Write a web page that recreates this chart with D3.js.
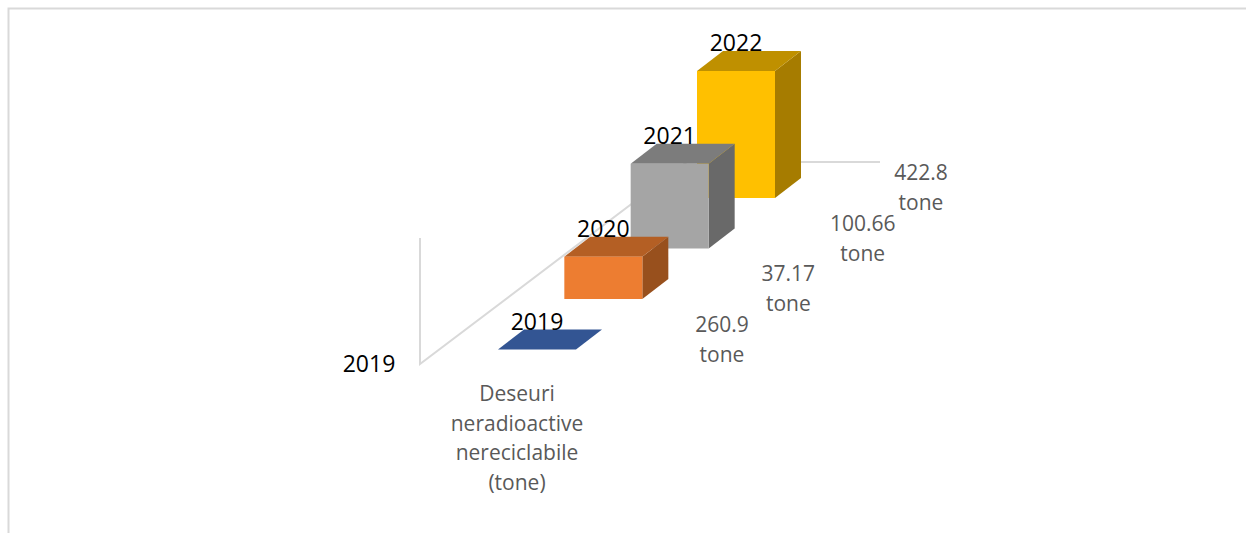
<!DOCTYPE html>
<html>
<head>
<meta charset="utf-8">
<script src="https://cdn.jsdelivr.net/npm/d3@7"></script>
<style>
  html, body { margin: 0; padding: 0; background: #fff; }
  svg { display: block; }
  text { font-family: "Open Sans", sans-serif; }
</style>
</head>
<body>
<script>
// values are the years themselves, the value axis starts at 2019
const categories = ["Deseuri neradioactive nereciclabile (tone)"];
const categoryLines = ["Deseuri", "neradioactive", "nereciclabile", "(tone)"];
const seriesNames = ["260.9 tone", "37.17 tone", "100.66 tone", "422.8 tone"];
const seriesValues = [2019, 2020, 2021, 2022];
const axisTicks = [2019];
const frontColors = ["#335593", "#ed7d31", "#a5a5a5", "#ffc000"];
const topColors = ["#335593", "#b45f24", "#7c7c7c", "#bf9000"];
const sideColors = ["#335593", "#98501d", "#696969", "#a67c00"];

const width = 1246, height = 533;
const barW = 78, skewX = 26, skewY = 20;

const svg = d3.select("body").append("svg")
  .attr("width", width)
  .attr("height", height)
  .attr("viewBox", `0 0 ${width} ${height}`);

// depth axis: series sit one behind the other
const depth = d3.scalePoint().domain(seriesNames).range([0, 1]);
const depthX = d3.scaleLinear().domain([0, 1]).range([498, 697]);
const depthY = d3.scaleLinear().domain([0, 1]).range([349.5, 198]);
const barH = d3.scaleLinear().domain([2019, 2022]).range([0, 127]);

// chart frame, only top and left are inside the crop
svg.append("path")
  .attr("d", `M${width},8.5 H8.5 V${height}`)
  .attr("fill", "none")
  .attr("stroke", "#d9d9d9")
  .attr("stroke-width", 2);

// walls and floor edges
svg.append("path")
  .attr("d", "M420,238 V364 L687,162 H880")
  .attr("fill", "none")
  .attr("stroke", "#d9d9d9")
  .attr("stroke-width", 2);

svg.selectAll(".tick-label")
  .data(axisTicks)
  .join("text")
  .attr("class", "tick-label")
  .attr("x", 369)
  .attr("y", 372)
  .attr("text-anchor", "middle")
  .attr("font-size", 23)
  .attr("fill", "#000")
  .text(d => d);

// back bar first so the nearer ones cover it
const bars = svg.selectAll(".bar")
  .data(seriesNames.map((name, i) => ({ name, i })).reverse())
  .join("g")
  .attr("class", "bar")
  .attr("transform", d => `translate(${depthX(depth(d.name))},${depthY(depth(d.name))})`);

bars.append("path")
  .attr("fill", d => sideColors[d.i])
  .attr("d", d => {
    const h = barH(seriesValues[d.i]);
    return `M${barW},0 L${barW + skewX},${-skewY} V${-skewY - h} L${barW},${-h} Z`;
  });

bars.append("path")
  .attr("fill", d => topColors[d.i])
  .attr("d", d => {
    const h = barH(seriesValues[d.i]);
    return `M0,${-h} L${skewX},${-h - skewY} H${barW + skewX} L${barW},${-h} Z`;
  });

bars.append("rect")
  .attr("x", 0)
  .attr("y", d => -barH(seriesValues[d.i]))
  .attr("width", barW)
  .attr("height", d => barH(seriesValues[d.i]))
  .attr("fill", d => frontColors[d.i]);

// year labels go on top of all bars
svg.selectAll(".year-label")
  .data(seriesNames)
  .join("text")
  .attr("class", "year-label")
  .attr("x", d => depthX(depth(d)) + barW / 2)
  .attr("y", (d, i) => depthY(depth(d)) - barH(seriesValues[i]) - skewY)
  .attr("text-anchor", "middle")
  .attr("font-size", 23)
  .attr("fill", "#000")
  .text((d, i) => seriesValues[i]);

// depth axis labels, wrapped on two lines
const depthLabels = svg.selectAll(".depth-label")
  .data(seriesNames)
  .join("text")
  .attr("class", "depth-label")
  .attr("text-anchor", "middle")
  .attr("font-size", 21)
  .attr("fill", "#595959");

// the 100.66 label sits a bit off the regular depth step in the original
const labelDx = name => (name === seriesNames[2] ? 8 : 0);

depthLabels.selectAll("tspan")
  .data(d => d.split(" ").map(s => ({ s, name: d })))
  .join("tspan")
  .attr("x", d => depthX(depth(d.name)) + 224 + labelDx(d.name))
  .attr("y", (d, i) => depthY(depth(d.name)) - 18 + i * 30)
  .text(d => d.s);

// category label
svg.append("text")
  .attr("text-anchor", "middle")
  .attr("font-size", 21)
  .attr("fill", "#595959")
  .selectAll("tspan")
  .data(categoryLines)
  .join("tspan")
  .attr("x", 517)
  .attr("y", (d, i) => 401 + i * 29.5)
  .text(d => d);
</script>
</body>
</html>
